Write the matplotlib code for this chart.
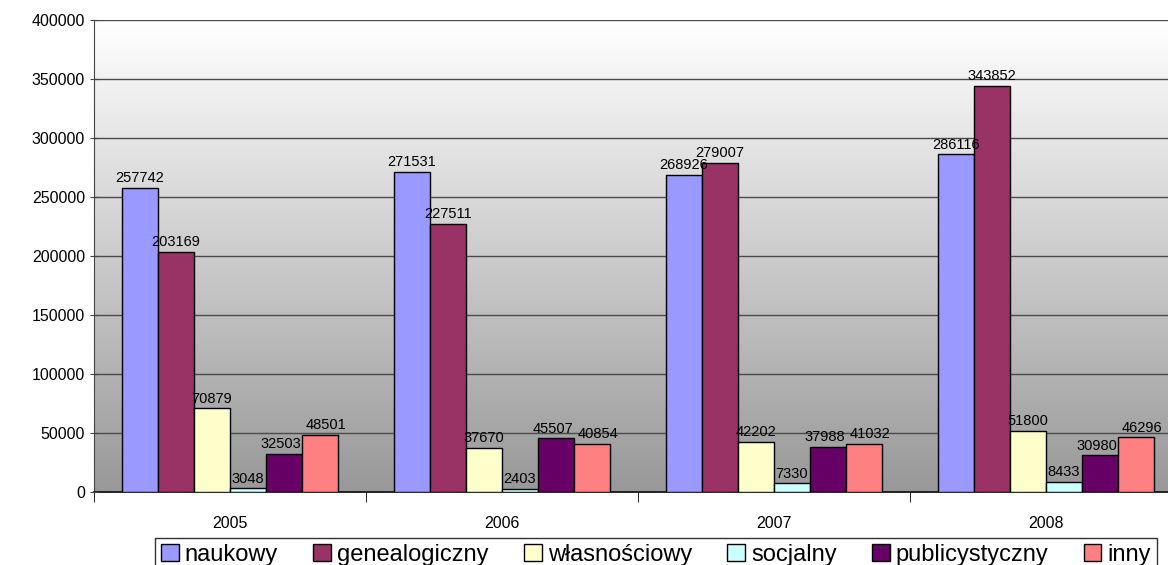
import numpy as np
import matplotlib.pyplot as plt
from matplotlib.colors import LinearSegmentedColormap

# data
years = ["2005", "2006", "2007", "2008"]
series_names = ["naukowy", "genealogiczny", "własnościowy", "socjalny",
                "publicystyczny", "inny"]
naukowy = [257742, 271531, 268926, 286116]
genealogiczny = [203169, 227511, 279007, 343852]
wlasnosciowy = [70879, 37670, 42202, 51800]
socjalny = [3048, 2403, 7330, 8433]
publicystyczny = [32503, 45507, 37988, 30980]
inny = [48501, 40854, 41032, 46296]
series_values = [naukowy, genealogiczny, wlasnosciowy, socjalny,
                 publicystyczny, inny]
colors = ["#9999FF", "#993366", "#FFFFCC", "#CCFFFF", "#660066", "#FF8080"]

y_ticks = [0, 50000, 100000, 150000, 200000, 250000, 300000, 350000, 400000]

plt.rcParams["font.family"] = ["Liberation Sans", "DejaVu Sans"]

fig = plt.figure(figsize=(11.68, 5.65), dpi=100)
ax = fig.add_axes([94 / 1168, 1 - 492 / 565, 1088 / 1168, 472 / 565])

# gradient background (white at top -> gray at bottom)
grad = np.linspace(0, 1, 256).reshape(-1, 1)
bg_cmap = LinearSegmentedColormap.from_list("bg", ["#989898", "#ffffff"])
ax.imshow(grad, extent=[-0.5, 3.5, 0, 400000], aspect="auto",
          cmap=bg_cmap, origin="lower", zorder=0)

x = np.arange(len(years))
w = 36 / 272
for i, (vals, col) in enumerate(zip(series_values, colors)):
    pos = x + (i - 2.5) * w
    ax.bar(pos, vals, width=w, color=col, edgecolor="black", linewidth=1.0,
           zorder=3, label=series_names[i])
    dx = 4 if i == 5 else (-2 if i == 4 else 0)
    for px, v in zip(pos, vals):
        ax.annotate(str(v), (px, v), xytext=(dx, 2), textcoords="offset points",
                    ha="center", va="bottom", fontsize=10.5, color="black",
                    zorder=4)

ax.set_xlim(-0.5, 3.5)
ax.set_ylim(0, 400000)
ax.set_yticks(y_ticks)
ax.set_yticklabels([str(t) for t in y_ticks], fontsize=11.5)
ax.yaxis.grid(True, color="#4a4a4a", linewidth=1.0, zorder=1)
ax.set_axisbelow(False)

ax.set_xticks(x)
ax.set_xticklabels(years, fontsize=11.5)
ax.tick_params(axis="x", length=0, pad=17)
ax.set_xticks(np.arange(-0.5, 4.0, 1.0), minor=True)
ax.tick_params(axis="x", which="minor", length=7, direction="out", color="black")
ax.tick_params(axis="y", length=6, direction="inout", color="#444444")

for s in ["top", "right"]:
    ax.spines[s].set_visible(False)
ax.spines["left"].set_color("#444444")
ax.spines["bottom"].set_color("black")
ax.spines["bottom"].set_linewidth(1.2)

leg = fig.legend(loc="upper center", bbox_to_anchor=(656 / 1168, 1 - 538 / 565),
                 ncol=6, frameon=True, fancybox=False, edgecolor="black",
                 prop={"size": 17},
                 handlelength=0.75, handleheight=0.75, handletextpad=0.25,
                 columnspacing=1.5, borderpad=0.25, borderaxespad=0)
leg.get_frame().set_linewidth(1.0)

fig.savefig("out.png", dpi=100)
